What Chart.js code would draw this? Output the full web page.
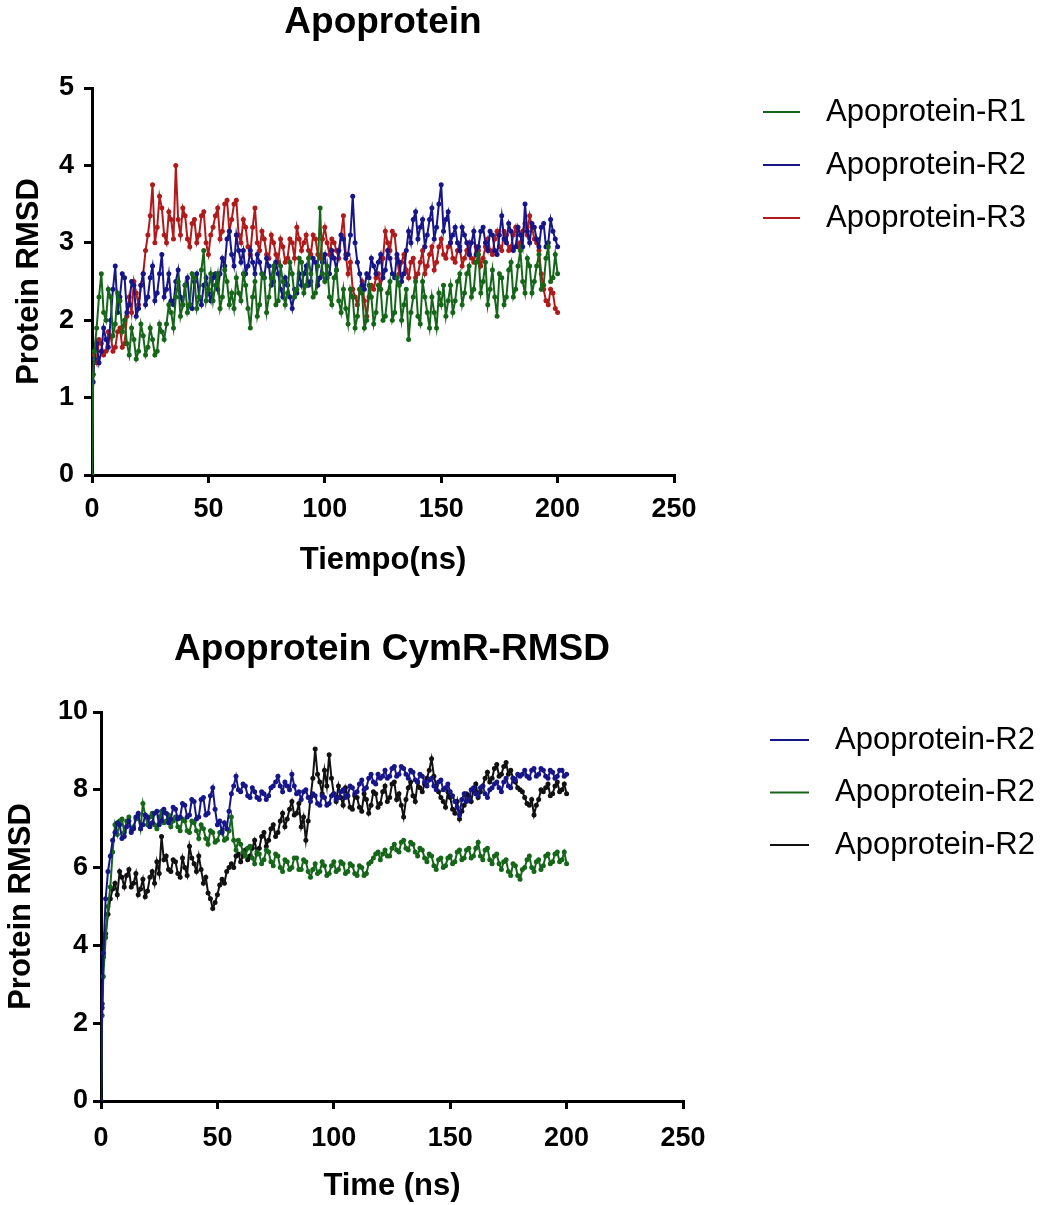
<!DOCTYPE html>
<html>
<head>
<meta charset="utf-8">
<title>Apoprotein RMSD</title>
<script src="https://cdn.jsdelivr.net/npm/chart.js@4.4.1/dist/chart.umd.min.js"></script>
<style>
    html, body { margin: 0; padding: 0; background: #fff; }
    body { width: 1042px; height: 1205px; position: relative; overflow: hidden; }
    canvas { position: absolute; left: 0; }
    #apoChart { top: 0; }
    #cymChart { top: 600px; }
</style>
</head>
<body>
<canvas id="apoChart" width="1042" height="600"></canvas>
<canvas id="cymChart" width="1042" height="605"></canvas>
<script>
/* ========= DATA ========= */
// simulation time (ns)
var times = [0, 0.5, 1, 2, 3, 4, 5, 6, 7, 8, 9, 10,
    11, 12, 13, 14, 15, 16, 17, 18, 19, 20,
    21, 22, 23, 24, 25, 26, 27, 28, 29, 30,
    31, 32, 33, 34, 35, 36, 37, 38, 39, 40,
    41, 42, 43, 44, 45, 46, 47, 48, 49, 50,
    51, 52, 53, 54, 55, 56, 57, 58, 59, 60,
    61, 62, 63, 64, 65, 66, 67, 68, 69, 70,
    71, 72, 73, 74, 75, 76, 77, 78, 79, 80,
    81, 82, 83, 84, 85, 86, 87, 88, 89, 90,
    91, 92, 93, 94, 95, 96, 97, 98, 99, 100,
    101, 102, 103, 104, 105, 106, 107, 108, 109, 110,
    111, 112, 113, 114, 115, 116, 117, 118, 119, 120,
    121, 122, 123, 124, 125, 126, 127, 128, 129, 130,
    131, 132, 133, 134, 135, 136, 137, 138, 139, 140,
    141, 142, 143, 144, 145, 146, 147, 148, 149, 150,
    151, 152, 153, 154, 155, 156, 157, 158, 159, 160,
    161, 162, 163, 164, 165, 166, 167, 168, 169, 170,
    171, 172, 173, 174, 175, 176, 177, 178, 179, 180,
    181, 182, 183, 184, 185, 186, 187, 188, 189, 190,
    191, 192, 193, 194, 195, 196, 197, 198, 199, 200];

// top panel: Apoprotein
var apoR1 = [0, 1.3, 1.6, 1.9, 2.3, 2.6, 2.1, 2.0, 2.4, 2.3, 1.8, 1.95,
    2.35, 2.25, 1.85, 2.0, 1.7, 1.55, 1.9, 1.75, 1.5, 1.6,
    1.95, 1.8, 1.55, 1.65, 1.9, 1.75, 1.55, 1.6, 1.95, 1.85,
    1.75, 1.95, 2.2, 2.1, 1.9, 2.3, 2.5, 2.05, 2.2, 2.45,
    2.1, 2.2, 2.6, 2.55, 2.15, 2.3, 2.65, 2.9, 2.25, 2.4,
    2.6, 2.25, 2.45, 2.6, 2.15, 2.3, 2.65, 2.5, 2.2, 2.35,
    2.15, 2.55, 2.35, 2.25, 2.6, 2.45, 2.15, 1.9, 2.3, 2.5,
    2.05, 2.2, 2.6, 2.55, 2.1, 2.3, 2.55, 2.7, 2.2, 2.25,
    2.7, 2.5, 2.2, 2.35, 2.75, 2.6, 2.3, 2.4, 2.8, 2.75,
    2.35, 2.45, 2.8, 2.6, 2.3, 2.35, 2.7, 3.45, 2.6, 2.5,
    2.7, 2.3, 2.2, 2.55, 2.65, 2.25, 2.1, 2.4, 2.15, 1.95,
    2.4, 2.3, 1.9, 2.05, 2.4, 2.35, 1.9, 2.0, 2.45, 2.3,
    1.95, 2.1, 2.45, 2.4, 2.0, 2.05, 2.35, 2.5, 2.0, 2.1,
    2.55, 2.45, 2.0, 2.2, 2.4, 1.75, 2.1, 2.3, 2.5, 2.05,
    1.95, 2.5, 2.3, 2.1, 1.9, 2.3, 2.1, 1.9, 2.35, 2.2,
    2.45, 2.05, 2.25, 2.45, 2.1, 2.25, 2.5, 2.6, 2.2, 2.35,
    2.6, 2.7, 2.3, 2.4, 2.75, 2.85, 2.35, 2.5, 2.75, 2.2,
    2.4, 2.65, 2.3, 2.05, 2.6, 2.55, 2.2, 2.3, 2.65, 2.75,
    2.3, 2.4, 2.7, 2.9, 2.5, 2.35, 2.8, 2.7, 2.35, 2.5,
    2.7, 2.85, 2.4, 2.45, 2.8, 2.95, 2.5, 2.55, 2.85, 2.6];
var apoR2 = [0, 1.2, 1.5, 1.7, 1.45, 1.6, 1.9, 1.75, 1.65, 2.0, 2.4, 2.7,
    2.1, 2.3, 2.6, 2.55, 2.1, 2.2, 2.5, 2.45, 2.05, 2.15,
    2.45, 2.6, 2.2, 2.3, 2.55, 2.7, 2.25, 2.35, 2.6, 2.85,
    2.3, 2.4, 2.6, 2.25, 2.2, 2.5, 2.65, 2.3, 2.2, 2.45,
    2.55, 2.2, 2.15, 2.5, 2.6, 2.3, 2.2, 2.45, 2.55, 2.35,
    2.25, 2.55, 2.6, 2.4, 2.6, 2.8, 2.7, 3.05, 3.15, 2.85,
    2.7, 3.1, 2.9, 2.75, 2.9, 2.6, 2.7, 2.9, 2.75, 2.6,
    2.85, 2.75, 2.6, 2.55, 2.8, 2.7, 2.45, 2.5, 2.75, 2.6,
    2.4, 2.3, 2.55, 2.45, 2.3, 2.15, 2.4, 2.35, 2.6, 2.45,
    2.6, 2.7, 2.45, 2.5, 2.8, 2.75, 2.45, 2.55, 2.75, 2.85,
    2.55, 2.6, 2.9, 2.8, 2.65, 2.9, 3.1, 3.05, 2.8, 2.85,
    3.1, 3.6, 3.0, 2.75, 2.6, 2.45, 2.4, 2.6, 2.55, 2.8,
    2.7, 2.6, 2.75, 2.85, 2.55, 2.65, 2.9, 2.8, 2.6, 2.55,
    2.85, 2.75, 2.5, 2.6, 2.9, 3.15, 3.0, 3.3, 3.4, 3.05,
    3.2, 3.3, 2.95, 3.1, 3.3, 3.45, 3.05, 3.2, 3.5, 3.75,
    3.15, 3.3, 3.4, 3.0, 3.1, 3.2, 3.0, 2.9, 3.2, 3.1,
    3.0, 2.85, 3.0, 3.15, 2.85, 2.95, 3.15, 3.2, 3.0, 2.9,
    3.15, 3.1, 2.9, 2.85, 3.1, 3.35, 3.05, 3.0, 3.25, 3.15,
    2.9, 2.95, 3.2, 3.1, 2.95, 3.5, 3.15, 3.0, 3.25, 3.2,
    3.05, 2.95, 3.2, 3.25, 2.95, 3.0, 3.3, 3.15, 3.05, 2.95];
var apoR3 = [0, 1.3, 1.55, 1.45, 1.75, 1.7, 1.55, 1.6, 1.85, 1.8, 1.6, 1.65,
    1.85, 1.9, 1.65, 1.7, 2.05, 2.3, 2.1, 2.5, 2.35, 2.2,
    2.45, 2.6, 2.9, 3.1, 3.35, 3.75, 3.0, 3.2, 3.6, 3.45,
    3.1, 3.0, 3.4, 3.3, 3.05, 4.0, 3.3, 3.1, 3.45, 3.35,
    3.05, 2.95, 3.25, 3.3, 3.0, 3.1, 3.35, 3.4, 3.0, 2.85,
    3.1, 3.2, 3.35, 3.45, 3.05, 3.15, 3.5, 3.55, 3.15, 3.3,
    3.5, 3.55, 3.1, 3.0, 3.3, 3.2, 2.95, 2.85, 3.2, 3.45,
    3.0, 2.9, 3.15, 3.05, 2.85, 2.8, 3.1, 3.0, 2.85, 2.75,
    3.05, 2.95, 2.75, 2.8, 3.05, 3.0, 2.8, 3.2, 3.05, 2.9,
    3.0, 3.1, 2.9, 2.85, 3.1, 3.05, 2.85, 2.8, 3.05, 3.2,
    3.0, 2.85, 3.05, 3.0, 2.9, 2.8, 3.1, 3.35, 2.85, 2.6,
    2.75, 2.4, 2.3, 2.2, 2.4, 2.5, 2.25, 2.05, 2.3, 2.45,
    2.4, 2.55, 2.6, 2.4, 2.8, 3.15, 3.0, 2.9, 3.15, 3.1,
    2.8, 2.6, 2.75, 2.85, 2.65, 2.55, 2.75, 2.8, 2.55, 2.6,
    2.75, 2.9, 2.6, 2.7, 2.85, 2.95, 2.65, 2.75, 2.95, 3.05,
    2.85, 2.8, 2.95, 3.0, 2.8, 2.75, 2.9, 2.95, 2.7, 2.8,
    2.9, 3.0, 2.8, 2.75, 2.95, 2.9, 2.7, 2.8, 2.95, 3.05,
    2.9, 2.85, 3.05, 3.15, 2.95, 2.9, 3.15, 3.1, 2.9, 2.95,
    3.1, 3.2, 2.95, 3.0, 3.15, 3.25, 3.1, 3.35, 3.2, 3.05,
    3.0, 2.9, 2.6, 2.4, 2.25, 2.2, 2.4, 2.35, 2.15, 2.1];

// bottom panel: Apoprotein CymR-RMSD
var cymBlue = [0, 2.4, 3.8, 5.2, 5.9, 6.3, 6.7, 6.9, 7.15, 7.1, 6.75, 6.8,
    7.05, 7.2, 6.9, 7.0, 7.3, 7.4, 7.0, 7.1, 7.35, 7.3,
    7.05, 7.15, 7.4, 7.45, 7.1, 7.2, 7.5, 7.4, 7.15, 7.25,
    7.55, 7.5, 7.25, 7.3, 7.65, 7.6, 7.3, 7.35, 7.75, 7.7,
    7.25, 7.3, 7.75, 7.8, 7.35, 7.4, 7.85, 8.05, 7.5, 7.1,
    7.2, 6.9, 7.15, 7.0, 7.45, 7.9, 8.1, 8.35, 8.0, 7.95,
    8.15, 8.1, 7.85, 7.8, 8.05, 7.95, 7.8, 7.75, 7.95, 7.9,
    7.75, 7.85, 8.05, 8.1, 8.2, 8.35, 8.1, 7.95, 8.2, 8.1,
    8.0, 8.4, 8.1, 7.9, 7.95, 7.75, 7.95, 8.0, 7.8, 7.7,
    7.9, 7.85, 7.65, 7.6, 7.85, 7.8, 7.6, 7.65, 7.85, 7.9,
    7.75, 7.8, 7.95, 8.0, 7.8, 7.85, 8.1, 8.05, 7.9, 7.95,
    8.15, 8.25, 8.0, 8.05, 8.3, 8.4, 8.2, 8.15, 8.4, 8.3,
    8.35, 8.5, 8.3, 8.35, 8.55, 8.6, 8.35, 8.4, 8.6, 8.55,
    8.4, 8.3, 8.5, 8.45, 8.25, 8.2, 8.4, 8.35, 8.2, 8.1,
    8.25, 8.3, 8.1, 8.0, 8.2, 8.25, 8.0, 8.05, 8.15, 7.95,
    7.85, 7.7, 7.55, 7.35, 7.75, 7.9, 7.7, 7.75, 8.0, 8.05,
    7.9, 7.85, 8.05, 8.1, 7.9, 7.8, 8.0, 8.05, 8.15, 8.2,
    8.05, 7.95, 8.2, 8.3, 8.1, 8.05, 8.3, 8.25, 8.4, 8.35,
    8.4, 8.5, 8.35, 8.3, 8.5, 8.55, 8.35, 8.4, 8.55, 8.5,
    8.35, 8.3, 8.5, 8.45, 8.3, 8.35, 8.5, 8.5, 8.35, 8.4];
var cymGreen = [0, 2.2, 3.2, 4.2, 5.0, 5.5, 6.4, 7.1, 6.85, 7.2, 7.25, 6.9,
    7.2, 7.3, 6.95, 7.05, 7.25, 7.35, 7.0, 7.65, 7.35, 7.1,
    7.3, 7.4, 7.1, 7.0, 7.3, 7.45, 7.15, 7.2, 7.35, 7.05,
    7.2, 7.3, 7.05, 6.95, 7.25, 7.2, 6.95, 6.9, 7.2, 7.15,
    6.95, 6.75, 7.1, 7.0, 6.75, 6.6, 6.95, 6.9, 6.65, 6.7,
    6.9, 6.95, 6.7, 6.75, 6.95, 7.3, 6.7, 6.45, 6.7, 6.6,
    6.4, 6.3, 6.5, 6.55, 6.25, 6.1, 6.4, 6.35, 6.1, 6.2,
    6.45, 6.4, 6.15, 6.05, 6.35, 6.3, 6.0, 5.9, 6.2, 6.15,
    5.95, 6.0, 6.25, 6.25, 5.95, 5.95, 6.2, 6.15, 5.9, 5.75,
    5.95, 6.1, 5.85, 5.9, 6.15, 6.05, 5.8, 5.85, 6.05, 6.15,
    5.9, 5.95, 6.15, 6.1, 5.85, 5.9, 6.1, 6.05, 5.85, 5.8,
    6.05, 6.0, 5.8, 5.85, 6.1, 6.15, 6.25, 6.35, 6.4, 6.2,
    6.35, 6.45, 6.3, 6.3, 6.5, 6.6, 6.45, 6.4, 6.65, 6.7,
    6.5, 6.45, 6.65, 6.6, 6.4, 6.3, 6.5, 6.45, 6.25, 6.15,
    6.35, 6.3, 6.05, 5.95, 6.2, 6.25, 6.0, 6.05, 6.25, 6.3,
    6.1, 6.15, 6.4, 6.45, 6.2, 6.25, 6.45, 6.5, 6.25, 6.3,
    6.5, 6.65, 6.3, 6.2, 6.45, 6.5, 6.2, 6.1, 6.3, 6.35,
    6.1, 5.95, 6.15, 6.2, 5.9, 5.8, 6.1, 6.05, 5.8, 5.7,
    5.95, 6.0, 6.2, 6.3, 6.0, 5.9, 6.15, 6.2, 5.95, 6.05,
    6.3, 6.35, 6.1, 6.15, 6.35, 6.4, 6.15, 6.2, 6.4, 6.1];
var cymBlack = [0, 2.5, 3.7, 4.3, 4.8, 5.2, 5.45, 5.6, 5.3, 5.9, 5.75, 5.5,
    5.8, 5.95, 5.5, 5.6, 5.85, 5.3, 5.45, 5.7, 5.25, 5.4,
    5.75, 5.9, 5.6, 6.15, 5.85, 6.8, 6.2, 6.3, 5.95, 5.9,
    6.2, 6.15, 5.85, 5.75, 6.25, 6.0, 5.8, 6.55, 6.25, 6.1,
    5.9, 6.3, 5.95, 5.6, 5.75, 5.35, 5.2, 4.95, 5.1, 5.3,
    5.55, 5.7, 5.6, 5.9, 6.0, 6.1, 6.0, 6.3, 6.35, 6.15,
    6.3, 6.45, 6.2, 6.3, 6.5, 6.7, 6.35, 6.5, 6.8, 6.9,
    6.55, 6.7, 7.0, 7.1, 6.8, 6.9, 7.2, 7.4, 7.05, 7.25,
    7.5, 7.7, 7.35, 7.4, 7.65, 7.05, 7.3, 6.7, 7.2, 7.8,
    8.3, 9.05, 8.4, 8.2, 7.9, 8.5, 8.1, 8.9, 8.3, 7.9,
    7.7, 8.1, 7.8, 7.6, 8.05, 7.85, 7.55, 7.5, 7.85, 7.8,
    7.55, 7.45, 7.9, 7.75, 7.4, 7.6, 7.95, 7.9, 7.55, 7.65,
    7.95, 8.1, 7.7, 7.8, 8.15, 8.2, 7.75, 7.9, 7.6, 7.3,
    7.75, 8.05, 8.2, 7.85, 7.7, 8.2, 8.05, 7.95, 8.15, 8.3,
    8.5, 8.8, 8.35, 8.1, 7.95, 7.8, 7.7, 7.55, 7.95, 7.8,
    7.5, 7.4, 7.7, 7.25, 7.45, 7.6, 7.9, 7.85, 7.7, 8.0,
    8.15, 7.8, 7.95, 8.1, 8.3, 8.45, 8.2, 8.3, 8.55, 8.65,
    8.35, 8.4, 8.6, 8.7, 8.4, 8.5, 8.3, 8.2, 8.05, 8.0,
    7.95, 7.8, 7.65, 7.6, 7.75, 7.35, 7.6, 7.75, 8.0, 7.95,
    8.05, 8.15, 7.85, 7.9, 8.1, 8.2, 7.95, 8.0, 8.15, 7.9];

// axis ticks
var xTickValues = [0, 50, 100, 150, 200, 250];
var apoYTicks = [0, 1, 2, 3, 4, 5];
var cymYTicks = [0, 2, 4, 6, 8, 10];

/* ========= HELPERS ========= */
Chart.defaults.font.family = '"Liberation Sans", Arial, Helvetica, sans-serif';
Chart.defaults.color = '#000';

var GREEN = '#16661a';
var BLUE = '#16168a';
var RED = '#b01a1a';
var BLACK = '#111111';

function series(label, values, color) {
    return {
        label: label,
        data: times.map(function (t, i) { return { x: t, y: values[i] }; }),
        borderColor: color,
        backgroundColor: color,
        pointBackgroundColor: color,
        borderWidth: 2,
        pointRadius: 2.5,
        pointBorderWidth: 0,
        pointHoverRadius: 0,
        tension: 0
    };
}

// legend beside the plot, one short line + label per dataset
var sideLegend = {
    id: 'sideLegend',
    afterDraw: function (chart, args, o) {
        var ctx = chart.ctx;
        ctx.save();
        ctx.font = '31px "Liberation Sans", Arial, sans-serif';
        ctx.textBaseline = 'middle';
        ctx.fillStyle = '#000';
        chart.data.datasets.forEach(function (ds, i) {
            var y = o.top + i * o.step;
            ctx.strokeStyle = ds.borderColor;
            ctx.lineWidth = 2;
            ctx.beginPath();
            ctx.moveTo(o.lineX, y);
            ctx.lineTo(o.lineX + o.lineLen, y);
            ctx.stroke();
            ctx.fillText(ds.label, o.textX, y);
        });
        ctx.restore();
    }
};

function tickList(values) {
    return function (scale) {
        scale.ticks = values.map(function (v) { return { value: v }; });
    };
}

var axisGrid = { display: true, drawOnChartArea: false, drawTicks: true, tickLength: 8, color: '#000', lineWidth: 3 };
var axisBorder = { display: true, color: '#000', width: 3 };

function rmsdChart(id, g) {
    return new Chart(document.getElementById(id), {
        type: 'line',
        data: { datasets: g.datasets },
        plugins: [sideLegend],
        options: {
            responsive: false,
            animation: false,
            events: [],
            layout: { padding: { left: 0, right: g.padRight, top: 0, bottom: 0 } },
            plugins: {
                legend: { display: false },
                tooltip: { enabled: false },
                title: {
                    display: true,
                    text: g.title,
                    fullSize: false,
                    color: '#000',
                    font: { size: 37, weight: 'bold' },
                    padding: { top: g.titleTop, bottom: g.titleBottom }
                },
                sideLegend: g.legend
            },
            scales: {
                x: {
                    type: 'linear',
                    min: 0,
                    max: 250,
                    afterBuildTicks: tickList(xTickValues),
                    afterFit: function (s) { s.height = g.xHeight; },
                    grid: axisGrid,
                    border: axisBorder,
                    ticks: { font: { size: 27, weight: 'bold' }, padding: g.xTickPad, maxRotation: 0, autoSkip: false },
                    title: { display: true, text: g.xTitle, font: { size: 31, weight: 'bold' }, padding: { top: 0, bottom: g.xTitlePad } }
                },
                y: {
                    type: 'linear',
                    min: 0,
                    max: g.yMax,
                    afterBuildTicks: tickList(g.yTicks),
                    afterFit: function (s) { s.width = g.yWidth; },
                    grid: axisGrid,
                    border: axisBorder,
                    ticks: { font: { size: 27, weight: 'bold' }, padding: g.yTickPad, autoSkip: false },
                    title: { display: true, text: 'Protein RMSD', font: { size: 31, weight: 'bold' }, padding: { top: g.yTitlePad, bottom: 0 } }
                }
            }
        }
    });
}

/* ========= APOPROTEIN ========= */
rmsdChart('apoChart', {
    title: 'Apoprotein',
    xTitle: 'Tiempo(ns)',
    yMax: 5,
    yTicks: apoYTicks,
    datasets: [
        series('Apoprotein-R1', apoR1, GREEN),
        series('Apoprotein-R2', apoR2, BLUE),
        series('Apoprotein-R3', apoR3, RED)
    ],
    padRight: 368,
    yWidth: 92,
    xHeight: 125,
    titleTop: 1,
    titleBottom: 42.6,
    xTickPad: 10,
    yTickPad: 10,
    xTitlePad: 21,
    yTitlePad: 11,
    legend: { lineX: 763, lineLen: 37, textX: 826, top: 112, step: 53 }
});

/* ========= CYMR ========= */
rmsdChart('cymChart', {
    title: 'Apoprotein CymR-RMSD',
    xTitle: 'Time (ns)',
    yMax: 10,
    yTicks: cymYTicks,
    datasets: [
        series('Apoprotein-R2', cymBlue, BLUE),
        series('Apoprotein-R2', cymGreen, GREEN),
        series('Apoprotein-R2', cymBlack, BLACK)
    ],
    padRight: 359,
    yWidth: 101,
    xHeight: 104,
    titleTop: 27.8,
    titleBottom: 39.8,
    xTickPad: 13,
    yTickPad: 5,
    xTitlePad: 0,
    yTitlePad: 3,
    legend: { lineX: 770, lineLen: 39, textX: 835, top: 140, step: 52.5 }
});
</script>
</body>
</html>
